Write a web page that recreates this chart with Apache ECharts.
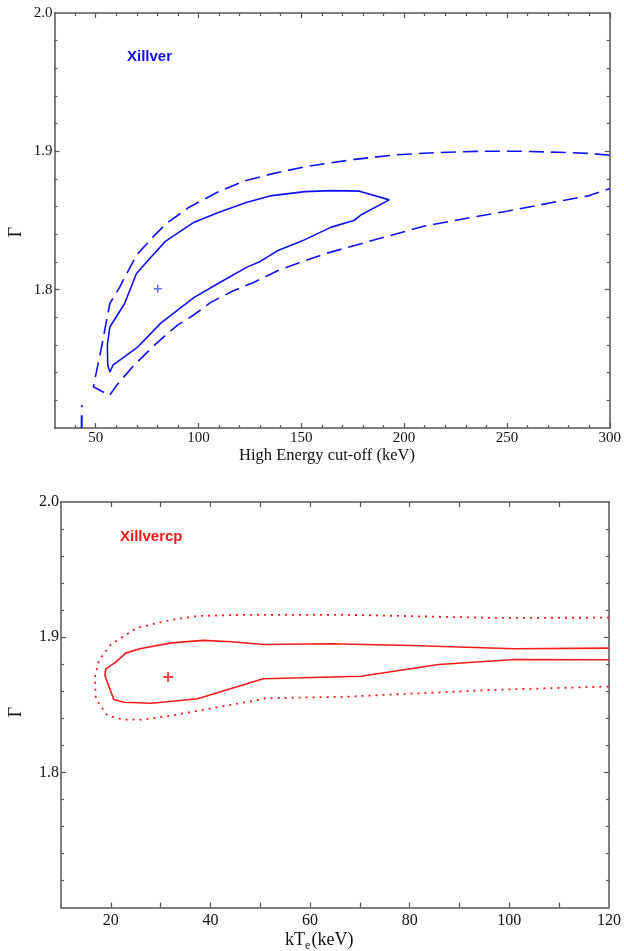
<!DOCTYPE html>
<html>
<head>
<meta charset="utf-8">
<script src="https://cdn.jsdelivr.net/npm/echarts@6/dist/echarts.min.js"></script>
<style>
html,body{margin:0;padding:0;background:#fff;}
#chart{width:624px;height:951px;}
</style>
</head>
<body>
<div id="chart"></div>
<script>
// ---------------- DATA ----------------
// Top panel: Xillver, Gamma vs High Energy cut-off (keV)
const xillverSolid = [[56.9,1.773],[64.1,1.790],[69.8,1.8115],[76.2,1.8224],[83.9,1.8349],[97.9,1.8488],[110,1.856],[123.6,1.8632],[135.7,1.868],[151.8,1.8709],[164.6,1.8716],[178.3,1.8712],[192.8,1.8649],[179.1,1.8541],[175.6,1.85],[164.6,1.8452],[150.2,1.8351],[138.1,1.8279],[130.1,1.8204],[123.6,1.8163],[110.8,1.8055],[97.9,1.7944],[81.8,1.776],[70.6,1.7587],[58.4,1.7454],[57.0,1.7405],[55.9,1.7454],[55.7,1.7600],[56.9,1.773]];
const xillverDashed = [[300,1.8972],[290,1.8985],[275,1.8993],[255,1.9001],[235,1.9],[215,1.899],[196,1.8975],[176,1.8942],[151.8,1.8889],[135.7,1.8837],[122.8,1.8788],[109.2,1.8704],[95.5,1.8596],[84.2,1.8476],[77.8,1.838],[69.8,1.8248],[61.7,1.8019],[56.9,1.79],[52.9,1.7587],[48.9,1.7298],[52.9,1.7266],[56.8,1.7236],[60.3,1.731],[68.2,1.7447],[78,1.759],[84,1.767],[90,1.7745],[97.5,1.7815],[106,1.7908],[117,1.7992],[126.5,1.805],[138.5,1.8137],[148,1.819],[163,1.8266],[176,1.832],[193,1.839],[210,1.846],[230,1.8515],[250,1.8567],[265,1.861],[280,1.8652],[290,1.868],[300,1.873]];
const xillverFragment = [[43.3,1.7165],[43.2,1.70]];
const xillverBest = [[80.2,1.8007]];

// Bottom panel: Xillvercp, Gamma vs kTe (keV)
const xillvercpSolid = [[120,1.8919],[101,1.8914],[80.2,1.8938],[64.2,1.8951],[50.6,1.8946],[44.2,1.8966],[38.6,1.8976],[32.2,1.8958],[25.8,1.8914],[23,1.8882],[21,1.8815],[19,1.8766],[18.8,1.8716],[20.6,1.8539],[22.6,1.8519],[28.2,1.8511],[37.4,1.8544],[50.6,1.8692],[70.2,1.8711],[85.8,1.8798],[101,1.8835],[120,1.8833]];
const xillvercpDotted = [[120,1.9144],[96.6,1.9143],[67.6,1.9165],[46,1.9165],[37.3,1.9156],[31.5,1.9123],[25.2,1.9068],[20,1.8945],[17.6,1.8827],[16.8,1.8704],[17,1.8543],[18.5,1.8462],[19.3,1.842],[22.6,1.839],[26.6,1.839],[32.2,1.842],[39.6,1.847],[49,1.8531],[51,1.8548],[67.6,1.856],[96.6,1.861],[120,1.8635]];
const xillvercpBest = [[31.5,1.8705]];

// Axis ranges and ticks
const topXRange = [30, 300];
const topXLabels = [50, 100, 150, 200, 250, 300];
const topXMajor = [50, 100, 150, 200, 250, 300];
const topXMinor = [40, 60, 70, 80, 90, 110, 120, 130, 140, 160, 170, 180, 190, 210, 220, 230, 240, 260, 270, 280, 290];
const botXRange = [10, 120];
const botXLabels = [20, 40, 60, 80, 100, 120];
const botXMajor = [20, 30, 40, 50, 60, 70, 80, 90, 100, 110];
const botXMinor = [];
const yRange = [1.7, 2.0];
const yLabels = [1.8, 1.9, 2.0];
const yMajor = [1.8, 1.9];
const yMinor = [1.72, 1.74, 1.76, 1.78, 1.82, 1.84, 1.86, 1.88, 1.92, 1.94, 1.96, 1.98];

// ---------------- STYLE ----------------
const AX = '#555555';
const SERIF = '"Liberation Serif","Times New Roman",serif';
const SANS = '"Liberation Sans",Arial,Helvetica,sans-serif';
const BLUE = '#1010f5';
const RED = '#f51a1a';
const PLUS = 'path://M0,4H10V6H0Z M4,0H6V10H4Z';

function axisSet(dim, grid, range, labels, majors, minors, fontSize, margin, fmt) {
  const pos = dim === 'x' ? ['bottom', 'top'] : ['left', 'right'];
  const base = {gridIndex: grid, type: 'value', min: range[0], max: range[1], splitLine: {show: false}};
  const tick = (vals, len) => ({show: vals.length > 0, inside: true, length: len, customValues: vals, lineStyle: {color: AX, width: 1.2}});
  const line = (show) => ({show, onZero: false, lineStyle: {color: AX, width: 1.5}});
  return [
    Object.assign({}, base, {position: pos[0], axisLine: line(true), axisTick: tick(majors, 5),
      axisLabel: {show: true, customValues: labels, margin, color: '#111', fontFamily: SERIF, fontSize, formatter: fmt}}),
    Object.assign({}, base, {position: pos[0], axisLine: line(false), axisTick: tick(minors, 3), axisLabel: {show: false}}),
    Object.assign({}, base, {position: pos[1], axisLine: line(true), axisTick: tick(majors, 5), axisLabel: {show: false}}),
    Object.assign({}, base, {position: pos[1], axisLine: line(false), axisTick: tick(minors, 3), axisLabel: {show: false}})
  ];
}

const xAxes = [].concat(
  axisSet('x', 0, topXRange, topXLabels, topXMajor, topXMinor, 15, 3, v => String(v)),
  axisSet('x', 1, botXRange, botXLabels, botXMajor, botXMinor, 16, 5, v => String(v))
);
const yAxes = [].concat(
  axisSet('y', 0, yRange, yLabels, yMajor, yMinor, 15, 2, v => v.toFixed(1)),
  axisSet('y', 1, yRange, yLabels, yMajor, yMinor, 16, 2, v => v.toFixed(1))
);

function lineSeries(data, p, color, type, width) {
  return {type: 'line', data, xAxisIndex: p * 4, yAxisIndex: p * 4, symbol: 'none', smooth: false,
    clip: true, silent: true, animation: false, lineStyle: {color, width: width || 1.6, type}};
}

const option = {
  animation: false,
  backgroundColor: '#ffffff',
  grid: [
    {left: 54.5, top: 13, width: 562, height: 415},
    {left: 61, top: 502, width: 551, height: 405.5}
  ],
  xAxis: xAxes,
  yAxis: yAxes,
  series: [
    lineSeries(xillverSolid, 0, BLUE, 'solid'),
    lineSeries(xillverDashed, 0, BLUE, [15, 7]),
    lineSeries(xillverFragment, 0, BLUE, [2, 8, 14, 6], 2),
    {type: 'scatter', data: xillverBest, xAxisIndex: 0, yAxisIndex: 0, symbol: PLUS, symbolSize: 8,
      itemStyle: {color: '#3050ff'}, silent: true},
    lineSeries(xillvercpSolid, 1, RED, 'solid'),
    lineSeries(xillvercpDotted, 1, RED, [2, 5], 1.8),
    {type: 'scatter', data: xillvercpBest, xAxisIndex: 4, yAxisIndex: 4, symbol: PLUS, symbolSize: 10,
      itemStyle: {color: RED}, silent: true}
  ],
  graphic: [
    {type: 'text', left: 127, top: 49, style: {text: 'Xillver', font: 'bold 15px ' + SANS, fill: BLUE}},
    {type: 'text', left: 120, top: 529, style: {text: 'Xillvercp', font: 'bold 15px ' + SANS, fill: RED}},
    {type: 'text', x: 327, y: 456, style: {text: 'High Energy cut-off (keV)', font: '16.5px ' + SERIF, fill: '#111', align: 'center', verticalAlign: 'middle'}},
    {type: 'text', x: 16, y: 232, rotation: Math.PI / 2, style: {text: 'Γ', font: '18px ' + SERIF, fill: '#111', align: 'center', verticalAlign: 'middle'}},
    {type: 'text', x: 16, y: 712, rotation: Math.PI / 2, style: {text: 'Γ', font: '18px ' + SERIF, fill: '#111', align: 'center', verticalAlign: 'middle'}},
    {type: 'text', x: 305, y: 940, style: {text: 'kT', font: '18px ' + SERIF, fill: '#111', align: 'right', verticalAlign: 'middle'}},
    {type: 'text', x: 305, y: 946, style: {text: 'e', font: '12px ' + SERIF, fill: '#111', align: 'left', verticalAlign: 'middle'}},
    {type: 'text', x: 311.5, y: 940, style: {text: '(keV)', font: '18px ' + SERIF, fill: '#111', align: 'left', verticalAlign: 'middle'}}
  ]
};

const chart = echarts.init(document.getElementById('chart'), null, {renderer: 'canvas'});
chart.setOption(option);
</script>
</body>
</html>
